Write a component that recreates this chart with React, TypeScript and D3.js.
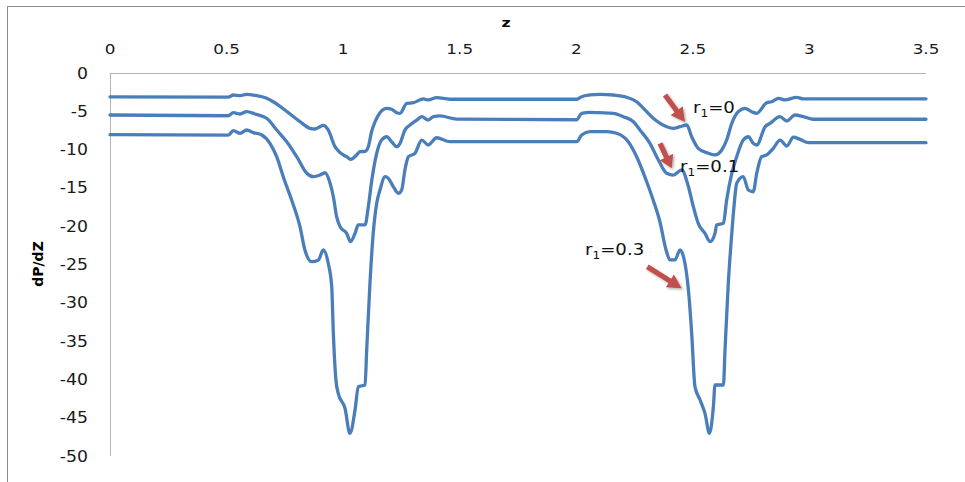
import React from "react";
import * as d3 from "d3";

const X_TICKS = [0, 0.5, 1, 1.5, 2, 2.5, 3, 3.5];
const Y_TICKS = [0, -5, -10, -15, -20, -25, -30, -35, -40, -45, -50];

// r1 = 0
const R0: [number, number][] = [
  [0, -3.12], [0.507, -3.15], [0.529, -2.87], [0.558, -2.96], [0.586, -2.78], [0.622, -2.91],
  [0.672, -3.3], [0.7, -3.75], [0.722, -4.18], [0.765, -5.18], [0.815, -6.36], [0.858, -7.22],
  [0.879, -7.31], [0.915, -6.83], [0.936, -7.44], [0.965, -9.62], [0.987, -10.4], [1.015, -10.93],
  [1.032, -11.27], [1.058, -10.7], [1.072, -10.27], [1.094, -10.22], [1.108, -9.62], [1.122, -7.66],
  [1.137, -6.36], [1.158, -5.18], [1.187, -4.61], [1.208, -4.74], [1.23, -5.18], [1.244, -5.26],
  [1.273, -3.96], [1.301, -3.88], [1.344, -3.39], [1.365, -3.52], [1.401, -3.22], [1.458, -3.43],
  [2.002, -3.43], [2.023, -3.09], [2.059, -2.87], [2.102, -2.78], [2.159, -2.87], [2.216, -3.17],
  [2.259, -3.75], [2.288, -4.61], [2.33, -5.91], [2.388, -7.01], [2.416, -7.22], [2.445, -7.01],
  [2.474, -6.79], [2.495, -8.32], [2.523, -9.83], [2.566, -10.48], [2.595, -10.7], [2.624, -10.05],
  [2.645, -8.75], [2.667, -6.57], [2.695, -5.05], [2.724, -4.61], [2.752, -5.05], [2.774, -5.26],
  [2.817, -3.88], [2.838, -3.75], [2.867, -3.3], [2.895, -3.52], [2.945, -3.17], [2.974, -3.39],
  [3.5, -3.39],
];

// r1 = 0.1
const R01: [number, number][] = [
  [0, -5.48], [0.507, -5.58], [0.529, -5.18], [0.558, -5.35], [0.586, -5.05], [0.622, -5.35],
  [0.672, -5.91], [0.715, -7.44], [0.758, -8.97], [0.801, -10.93], [0.844, -13.09], [0.872, -13.54],
  [0.901, -13.32], [0.922, -13.02], [0.944, -14.4], [0.958, -16.15], [0.972, -18.76], [0.987, -20.07],
  [1.015, -20.93], [1.032, -22.02], [1.051, -20.93], [1.065, -19.84], [1.094, -19.84], [1.108, -17.45],
  [1.123, -13.97], [1.144, -10.48], [1.165, -8.75], [1.187, -8.32], [1.208, -8.97], [1.23, -9.62],
  [1.244, -9.18], [1.265, -7.44], [1.287, -6.79], [1.316, -6.14], [1.337, -5.7], [1.365, -6.14],
  [1.387, -5.7], [1.415, -5.61], [1.487, -6.01], [2.002, -6.1], [2.023, -5.26], [2.059, -5.13],
  [2.102, -5.18], [2.159, -5.26], [2.202, -5.7], [2.245, -6.36], [2.273, -7.44], [2.316, -9.18],
  [2.352, -11.36], [2.388, -13.09], [2.416, -13.32], [2.452, -12.66], [2.481, -14.84], [2.502, -17.45],
  [2.523, -19.62], [2.552, -20.93], [2.574, -22.02], [2.595, -20.93], [2.602, -19.84], [2.631, -19.62],
  [2.645, -16.58], [2.667, -13.09], [2.688, -10.93], [2.716, -8.75], [2.738, -8.32], [2.759, -9.18],
  [2.774, -9.4], [2.81, -7.01], [2.831, -6.57], [2.874, -5.7], [2.903, -6.27], [2.938, -5.48],
  [2.974, -5.7], [3.017, -6.04], [3.5, -6.04],
];

// r1 = 0.3
const R03: [number, number][] = [
  [0, -8.05], [0.507, -8.1], [0.529, -7.53], [0.558, -7.87], [0.586, -7.44], [0.615, -7.79],
  [0.651, -8.09], [0.686, -9.18], [0.715, -10.93], [0.743, -13.54], [0.779, -16.58], [0.815, -20.07],
  [0.836, -23.11], [0.865, -24.63], [0.894, -24.41], [0.915, -23.11], [0.936, -24.84], [0.951, -27.9],
  [0.958, -33.98], [0.969, -40.08], [0.979, -41.81], [1.008, -43.77], [1.029, -47.04], [1.051, -43.99],
  [1.065, -40.95], [1.094, -40.73], [1.101, -36.16], [1.115, -27.45], [1.129, -20.93], [1.144, -17.01],
  [1.158, -15.27], [1.18, -13.54], [1.194, -13.75], [1.215, -14.84], [1.237, -15.7], [1.251, -15.27],
  [1.265, -12.66], [1.28, -10.93], [1.308, -10.48], [1.337, -8.75], [1.365, -9.4], [1.401, -8.45],
  [1.458, -8.97], [2.002, -8.97], [2.023, -8.09], [2.059, -7.66], [2.131, -7.66], [2.173, -7.87],
  [2.223, -8.97], [2.259, -10.93], [2.302, -14.2], [2.33, -16.6], [2.359, -19.45], [2.385, -23.1],
  [2.402, -24.4], [2.423, -24.4], [2.445, -23.11], [2.466, -24.84], [2.481, -28.33], [2.495, -33.98],
  [2.509, -40.95], [2.531, -42.69], [2.552, -44.43], [2.571, -47.04], [2.588, -43.56], [2.595, -40.73],
  [2.631, -40.73], [2.638, -36.16], [2.652, -27.45], [2.667, -20.93], [2.677, -17.23], [2.688, -14.4],
  [2.716, -13.54], [2.738, -15.27], [2.759, -15.5], [2.774, -13.09], [2.795, -10.93], [2.817, -10.7],
  [2.845, -9.83], [2.874, -8.75], [2.903, -9.53], [2.931, -8.39], [2.96, -8.66], [2.995, -9.1],
  [3.5, -9.1],
];

const SERIES = [R0, R01, R03];

// annotations: label anchor [z, v]; arrows tail/tip [z, v]
const LABELS: { sub: string; rest: string; at: [number, number] }[] = [
  { sub: "1", rest: "=0", at: [2.5007, -5.26] },
  { sub: "1", rest: "=0.1", at: [2.4449, -12.95] },
  { sub: "1", rest: "=0.3", at: [2.0374, -23.76] },
];
const ARROWS: { tail: [number, number]; tip: [number, number] }[] = [
  { tail: [2.3806, -2.87], tip: [2.4663, -6.4] },
  { tail: [2.3591, -9.18], tip: [2.4093, -12.44] },
  { tail: [2.3047, -25.29], tip: [2.4522, -28.11] },
];

const W = 965;
const H = 482;
const LINE = "#4a7ebb";
const FONT = "'DejaVu Sans', Verdana, sans-serif";

export default function App() {
  const x = d3.scaleLinear().domain([0, 3.5]).range([110, 926]);
  const y = d3.scaleLinear().domain([0, -50]).range([73, 456]);
  const line = d3
    .line<[number, number]>()
    .x((d) => x(d[0]))
    .y((d) => y(d[1]))
    .curve(d3.curveMonotoneX);

  const arrowPath = (tail: [number, number], tip: [number, number]) => {
    const x1 = x(tail[0]), y1 = y(tail[1]);
    const x2 = x(tip[0]), y2 = y(tip[1]);
    const len = Math.hypot(x2 - x1, y2 - y1);
    const ux = (x2 - x1) / len, uy = (y2 - y1) / len;
    const nx = -uy, ny = ux;
    const hl = Math.min(14, len * 0.45);
    const sw = 2.6, hw = 7.5;
    const bx = x2 - ux * hl, by = y2 - uy * hl;
    const pts = [
      [x1 + nx * sw, y1 + ny * sw],
      [bx + nx * sw, by + ny * sw],
      [bx + nx * hw, by + ny * hw],
      [x2, y2],
      [bx - nx * hw, by - ny * hw],
      [bx - nx * sw, by - ny * sw],
      [x1 - nx * sw, y1 - ny * sw],
    ];
    return "M" + pts.map((p) => p.join(",")).join("L") + "Z";
  };

  return (
    <svg
      width={W}
      height={H}
      style={{ position: "absolute", left: 0, top: 0, display: "block", background: "#fff" }}
    >
      <defs>
        <filter id="shadow" x="-50%" y="-50%" width="200%" height="200%">
          <feDropShadow dx="1.5" dy="1.5" stdDeviation="1" floodColor="#000" floodOpacity="0.3" />
        </filter>
      </defs>
      {/* outer border */}
      <rect x={7.5} y={6.5} width={1000} height={1000} fill="none" stroke="#8c8c8c" strokeWidth={1} />

      {/* axes lines */}
      <line x1={x(0)} x2={x(3.5)} y1={y(0) + 0.5} y2={y(0) + 0.5} stroke="#b3b3b3" strokeWidth={1} />
      <line x1={x(0) + 0.5} x2={x(0) + 0.5} y1={y(0)} y2={y(-50)} stroke="#b3b3b3" strokeWidth={1} />

      {/* x tick labels (top) */}
      {X_TICKS.map((t) => (
        <text
          key={"x" + t}
          transform={`translate(${x(t)},53.5) scale(1.2,1)`}
          textAnchor="middle"
          fontFamily={FONT}
          fontSize={14}
          fill="#1a1a1a"
        >
          {String(t)}
        </text>
      ))}
      {/* y tick labels */}
      {Y_TICKS.map((t) => (
        <text
          key={"y" + t}
          transform={`translate(88,${y(t) + 5.5}) scale(1.15,1)`}
          textAnchor="end"
          fontFamily={FONT}
          fontSize={15}
          fill="#1a1a1a"
        >
          {String(t)}
        </text>
      ))}

      {/* axis titles */}
      <text
        transform="translate(506,27) scale(1.2,1)"
        textAnchor="middle"
        fontFamily={FONT}
        fontSize={13}
        fontWeight="bold"
        fill="#000"
      >
        z
      </text>
      <text
        transform="translate(43,264) rotate(-90)"
        textAnchor="middle"
        fontFamily={FONT}
        fontSize={14}
        fontWeight="bold"
        fill="#000"
      >
        dP/dZ
      </text>

      {/* series */}
      {SERIES.map((s, i) => (
        <path
          key={"s" + i}
          d={line(s) || ""}
          fill="none"
          stroke={LINE}
          strokeWidth={3.3}
          strokeLinejoin="round"
          strokeLinecap="round"
        />
      ))}

      {/* arrows */}
      {ARROWS.map((a, i) => (
        <path key={"a" + i} d={arrowPath(a.tail, a.tip)} fill="#c0504d" filter="url(#shadow)" />
      ))}

      {/* labels */}
      {LABELS.map((l, i) => (
        <text
          key={"l" + i}
          transform={`translate(${x(l.at[0])},${y(l.at[1])}) scale(1.1,1)`}
          fontFamily={FONT}
          fontSize={16.5}
          fill="#111"
        >
          r
          <tspan fontSize={11} dy={4}>
            {l.sub}
          </tspan>
          <tspan dy={-4}>{l.rest}</tspan>
        </text>
      ))}
    </svg>
  );
}
